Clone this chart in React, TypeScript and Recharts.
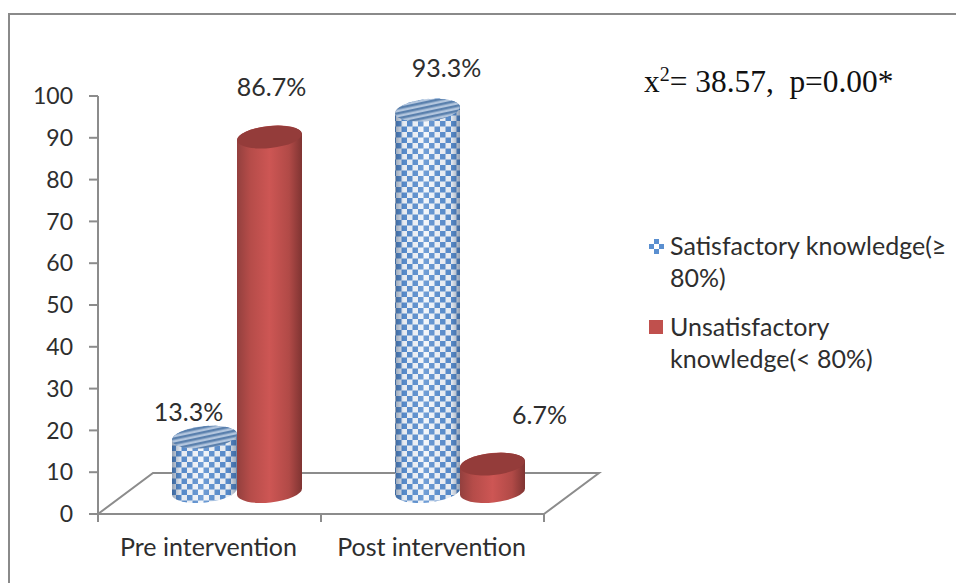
import React from "react";
import { ComposedChart, Bar, XAxis, YAxis, Legend, LabelList, Customized } from "recharts";

const categories = ["Pre intervention", "Post intervention"];
const satisfactory = [13.3, 93.3];
const unsatisfactory = [86.7, 6.7];
const yTicks = [0, 10, 20, 30, 40, 50, 60, 70, 80, 90, 100];
const SAT_NAME = "Satisfactory knowledge(≥ 80%)";
const UNSAT_NAME = "Unsatisfactory knowledge(< 80%)";

const rows = categories.map((name, i) => ({ name, sat: satisfactory[i], unsat: unsatisfactory[i] }));

const W = 956, H = 583;
const M = { top: 96, right: 412, bottom: 69, left: 98 };
const AXIS = "#8c8c8c";
const INK = "#2e2e2e";
const FONT = "Lato, 'Open Sans', sans-serif";
const FS = 25;
const DEPTH_X = 55, DEPTH_Y = 41;
const SHIFT = 27, BASE_UP = 22.5, SQUASH = 0.978, RY = 11, TILT = 6;
const BAND = 223;
const satLabelShift = [[-16, -37], [19, -47]];
const unsatLabelShift = [[2, -56], [47, -62]];

function Defs() {
  return (
    <defs>
      <pattern id="check" width="11" height="11" patternUnits="userSpaceOnUse">
        <rect width="11" height="11" fill="#f4f7fb" />
        <rect width="5.5" height="5.5" fill="#5a8fd0" />
        <rect x="5.5" y="5.5" width="5.5" height="5.5" fill="#5a8fd0" />
      </pattern>
      <pattern id="stripe" width="6" height="5" patternUnits="userSpaceOnUse" patternTransform="rotate(-6)">
        <rect width="6" height="5" fill="#b3c6de" />
        <rect width="6" height="2.5" fill="#5a80ad" />
      </pattern>
      <linearGradient id="shadeBlue" x1="0" x2="1" y1="0" y2="0">
        <stop offset="0" stopColor="#1f3a60" stopOpacity="0.45" />
        <stop offset="0.14" stopColor="#1f3a60" stopOpacity="0.06" />
        <stop offset="0.45" stopColor="#ffffff" stopOpacity="0.15" />
        <stop offset="0.86" stopColor="#1f3a60" stopOpacity="0.06" />
        <stop offset="1" stopColor="#1f3a60" stopOpacity="0.45" />
      </linearGradient>
      <linearGradient id="red" x1="0" x2="1" y1="0" y2="0">
        <stop offset="0" stopColor="#93403e" />
        <stop offset="0.2" stopColor="#b54c49" />
        <stop offset="0.5" stopColor="#cd5654" />
        <stop offset="0.8" stopColor="#b14a47" />
        <stop offset="1" stopColor="#7f3432" />
      </linearGradient>
    </defs>
  );
}

function Cylinder(props: any) {
  const { x, width, height, kind } = props;
  const rx = width / 2;
  const cx = x + SHIFT + rx;
  const base = H - M.bottom - BASE_UP;
  const top = base - height * SQUASH;
  const rise = rx * Math.tan((TILT * Math.PI) / 180);
  const arc = `A ${rx} ${RY} ${-TILT} 0 0`;
  const body =
    `M ${cx - rx} ${top + rise} L ${cx - rx} ${base + rise} ` +
    `${arc} ${cx + rx} ${base - rise} L ${cx + rx} ${top - rise} ` +
    `${arc} ${cx - rx} ${top + rise} Z`;
  const blue = kind === "sat";
  return (
    <g>
      <path d={body} fill={blue ? "url(#check)" : "url(#red)"} />
      {blue && <path d={body} fill="url(#shadeBlue)" />}
      <ellipse
        cx={cx}
        cy={top}
        rx={rx}
        ry={RY}
        fill={blue ? "url(#stripe)" : "#943c3a"}
        transform={`rotate(${-TILT} ${cx} ${top})`}
      />
    </g>
  );
}

function makeLabel(shift: number[][], values: number[]) {
  return function DataLabel(props: any) {
    const { x, y, width, index } = props;
    const [dx, dy] = shift[index];
    return (
      <text x={x + SHIFT + width / 2 + dx} y={y + dy} textAnchor="middle" fontFamily={FONT} fontSize={FS} fill={INK}>
        {values[index].toFixed(1)}%
      </text>
    );
  };
}

function XTick(props: any) {
  const { x, y, payload } = props;
  const b = H - M.bottom;
  return (
    <g>
      <line x1={x - BAND / 2} x2={x - BAND / 2} y1={b} y2={b + 8} stroke={AXIS} strokeWidth={2} />
      <line x1={x + BAND / 2} x2={x + BAND / 2} y1={b} y2={b + 8} stroke={AXIS} strokeWidth={2} />
      <text x={x - 1} y={y + 34} textAnchor="middle" fontFamily={FONT} fontSize={FS} fill={INK}>
        {payload.value}
      </text>
    </g>
  );
}

function Floor() {
  const l = M.left, r = M.left + BAND * 2, b = H - M.bottom;
  return (
    <path
      d={`M ${l} ${b} L ${l + DEPTH_X} ${b - DEPTH_Y} L ${r + DEPTH_X} ${b - DEPTH_Y} L ${r} ${b}`}
      fill="none"
      stroke={AXIS}
      strokeWidth={2}
    />
  );
}

function StatText() {
  return (
    <text x={644} y={92} fontFamily="'Liberation Serif', serif" fontSize={31.4} fill="#111">
      x<tspan dy={-11} fontSize={20}>2</tspan>
      <tspan dy={11} xmlSpace="preserve">= 38.57,  p=0.00*</tspan>
    </text>
  );
}

function LegendBox({ payload }: any) {
  return (
    <div style={{ fontFamily: FONT, fontSize: FS, color: INK, lineHeight: "31.5px" }}>
      {(payload || []).map((p: any, i: number) => (
        <div key={i} style={{ position: "relative", paddingLeft: 21, marginBottom: i === 0 ? 18 : 0, width: 285 }}>
          <svg width={16} height={16} style={{ position: "absolute", left: 0, top: 9 }}>
            {i === 0 ? (
              <g fill="#5a8fd0">
                <rect x={5} y={0} width={5} height={5} />
                <rect x={0} y={5} width={5} height={5} />
                <rect x={10} y={5} width={5} height={5} />
                <rect x={5} y={10} width={5} height={5} />
              </g>
            ) : (
              <rect x={0} y={0} width={14} height={14} fill="#c0504d" />
            )}
          </svg>
          {p.value}
        </div>
      ))}
    </div>
  );
}

export default function App() {
  return (
    <div style={{ position: "absolute", left: 0, top: 0, width: W, height: H, overflow: "hidden", background: "#fff" }}>
      <div
        style={{
          position: "absolute",
          left: 8,
          top: 13,
          width: W + 20,
          height: H + 20,
          border: "2.5px solid #8a8a8a",
          boxSizing: "border-box",
        }}
      />
      <ComposedChart
        width={W}
        height={H}
        data={rows}
        margin={{ top: M.top, right: M.right, bottom: 0, left: 0 }}
        barGap={0}
        barSize={65}
        style={{ position: "absolute", left: 0, top: 0 }}
      >
        <Customized component={Defs} />
        <Customized component={Floor} />
        <YAxis
          width={M.left}
          domain={[0, 100]}
          ticks={yTicks}
          interval={0}
          tickSize={9}
          tickMargin={16}
          axisLine={{ stroke: AXIS, strokeWidth: 2 }}
          tickLine={{ stroke: AXIS, strokeWidth: 2 }}
          tick={{ fontFamily: FONT, fontSize: 23, fill: INK }}
        />
        <XAxis
          dataKey="name"
          height={M.bottom}
          axisLine={{ stroke: AXIS, strokeWidth: 2 }}
          tickLine={false}
          tick={<XTick />}
          interval={0}
        />
        <Bar dataKey="sat" name={SAT_NAME} fill="#5a8fd0" isAnimationActive={false} shape={<Cylinder kind="sat" />}>
          <LabelList content={makeLabel(satLabelShift, satisfactory)} />
        </Bar>
        <Bar dataKey="unsat" name={UNSAT_NAME} fill="#c0504d" isAnimationActive={false} shape={<Cylinder kind="unsat" />}>
          <LabelList content={makeLabel(unsatLabelShift, unsatisfactory)} />
        </Bar>
        <Customized component={StatText} />
        <Legend
          layout="horizontal"
          verticalAlign="middle"
          align="center"
          content={<LegendBox />}
          wrapperStyle={{ left: 649, top: 230, width: 306, bottom: "auto", right: "auto" }}
        />
      </ComposedChart>
    </div>
  );
}
